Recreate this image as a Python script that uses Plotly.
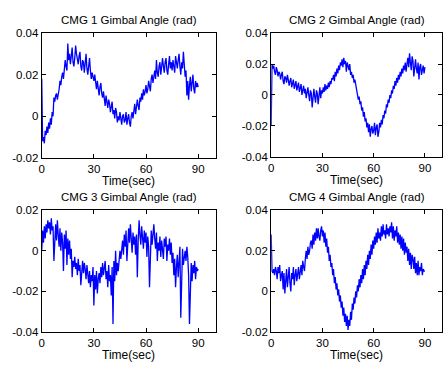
import plotly.graph_objects as go

# time axis: 0 .. 90 s, step 0.5 s
time_step = 0.5
n_points = 181
time_sec = [i * time_step for i in range(n_points)]

# gimbal angles in milliradians
cmg1_mrad = [
    18, -12, -10, -13, -7, -9, -5, -8, -3, -6,
    -1, -4, 2, 0, 9, 7, 10, 11, 8, 10,
    13, 17, 15, 19, 21, 18, 23, 27, 24, 22,
    35, 27, 30, 25, 29, 33, 26, 24, 28, 34,
    30, 27, 25, 29, 31, 24, 22, 27, 26, 21,
    25, 30, 23, 20, 24, 28, 22, 18, 21, 19,
    17, 20, 15, 13, 17, 12, 10, 14, 16, 11,
    9, 12, 8, 5, 10, 7, 4, 8, 6, 2,
    5, 7, 1, 3, -1, 4, 2, -3, 0, -2,
    2, -1, -4, 0, 1, -3, -2, 2, -4, -1,
    1, -3, -5, 0, 2, -1, 3, 6, 1, 4,
    8, 5, 3, 9, 7, 11, 8, 13, 10, 12,
    15, 11, 13, 17, 14, 12, 18, 20, 16, 19,
    22, 18, 27, 21, 19, 24, 26, 20, 23, 28,
    24, 21, 26, 28, 22, 20, 25, 29, 23, 26,
    22, 27, 24, 21, 29, 25, 23, 27, 30, 24,
    20, 26, 23, 31, 25, 19, 22, 10, 17, 8,
    15, 19, 12, 16, 20, 13, 11, 17, 14, 16,
    14,
]
cmg2_mrad = [
    -20, 20, 17, 19, 15, 13, 18, 16, 12, 15,
    14, 10, 13, 15, 9, 7, 12, 11, 8, 13,
    10, 6, 9, 11, 5, 8, 10, 4, 7, 9,
    3, 6, 8, 2, 5, 7, 0, 4, 6, 1,
    4, -2, 2, 5, 0, -4, 3, 1, -8, 2,
    4, -1, -5, 3, 1, -6, 2, 5, -2, 3,
    1, 5, 2, 7, 3, 6, 4, 8, 5, 9,
    7, 11, 10, 13, 9, 15, 12, 17, 14, 19,
    16, 21, 19, 23, 18, 24, 20, 22, 15, 21,
    19, 16, 20, 13, 15, 11, 13, 8, 10, 6,
    4, 1, -3, -1, -6, -4, -10, -8, -14, -11,
    -17, -15, -21, -18, -24, -19, -27, -22, -20, -25,
    -23, -18, -26, -21, -19, -27, -24, -18, -21, -16,
    -19, -13, -15, -10, -12, -6, -8, -3, -5, 0,
    -2, 3, 1, 6, 4, 9, 6, 11, 8, 13,
    10, 15, 12, 17, 14, 19, 16, 21, 15, 20,
    24, 18, 27, 21, 16, 25, 22, 12, 19, 23,
    17, 14, 21, 10, 18, 20, 13, 16, 19, 14,
    18,
]
cmg3_mrad = [
    0, 10, 4, 12, 6, 13, 9, 15, 11, 14,
    8, 16, 10, 12, -5, 9, 13, 5, 15, 8,
    2, 11, 0, 9, 4, -10, 8, 1, 10, -7,
    6, -2, 5, -4, 1, -13, -5, -8, -3, -9,
    -6, -12, -4, -10, -7, -17, -8, -5, -11, -6,
    -9, -14, -7, -12, -16, -10, -18, -12, -15, -8,
    -27, -12, -19, -10, -21, -14, -11, -16, -8, -13,
    -6, -12, -9, -5, -14, -10, -18, -7, -15, -12,
    -22, -8, -36, -5, -15, 0, -12, -6, -10, -3,
    0, -4, 3, 5, -2, 8, 2, 10, -5, 7,
    11, 4, 13, 6, -1, 9, 3, 7, -2, 8,
    -13, 5, 15, 8, 3, 12, 6, 1, 10, 4,
    9, -3, 7, 2, -18, 5, 10, 3, 8, 13,
    6, 1, 9, -5, 4, 0, 7, -3, 5, 1,
    -4, 6, 2, 7, -5, 3, 0, 6, -2, 4,
    -6, -1, -12, -4, -18, -8, -2, -13, -6, 2,
    -33, -4, 1, -7, -2, 0, -5, 2, -3, -12,
    -36, -10, -6, -15, -7, -11, -5, -14, -8, -10,
    -9,
]
cmg4_mrad = [
    28, 10, 9, 11, 8, 12, 10, 6, 12, 9,
    13, 5, 8, 10, 1, 9, -1, 6, 11, 2,
    7, 12, 4, 0, 9, 6, 12, 3, 8, 11,
    5, 9, 12, 6, 10, 13, 8, 15, 12, 10,
    16, 20, 16, 22, 18, 20, 24, 25, 21, 28,
    23, 29, 25, 31, 26, 31, 27, 25, 30, 32,
    27, 30, 24, 29, 22, 26, 19, 22, 15, 18,
    12, 14, 8, 11, 4, 7, 1, 4, -2, 1,
    -5, -2, -8, -5, -12, -8, -15, -11, -17, -12,
    -19, -14, -17, -10, -14, -6, -9, -3, -6, 0,
    -3, 3, 0, 6, 2, 8, 4, 11, 6, 13,
    8, 15, 11, 18, 13, 20, 16, 23, 18, 25,
    21, 27, 23, 29, 24, 31, 26, 29, 25, 32,
    27, 33, 28, 30, 26, 33, 28, 31, 27, 32,
    29, 34, 26, 32, 25, 30, 27, 32, 24, 29,
    23, 28, 21, 27, 20, 26, 18, 24, 19, 22,
    15, 21, 13, 19, 11, 18, 16, 11, 17, 9,
    14, 8, 15, 8, 12, 10, 14, 8, 11, 10,
    10,
]

titles = ["CMG 1 Gimbal Angle (rad)", "CMG 2 Gimbal Angle (rad)",
          "CMG 3 Gimbal Angle (rad)", "CMG 4 Gimbal Angle (rad)"]
x_label = "Time(sec)"
x_ticks = [0, 30, 60, 90]
x_tick_text = ["0", "30", "60", "90"]
y_ticks = [
    [-0.02, 0, 0.02, 0.04],
    [-0.04, -0.02, 0, 0.02, 0.04],
    [-0.04, -0.02, 0, 0.02],
    [-0.02, 0, 0.02, 0.04],
]
y_tick_text = [
    ["-0.02", "0", "0.02", "0.04"],
    ["-0.04", "-0.02", "0", "0.02", "0.04"],
    ["-0.04", "-0.02", "0", "0.02"],
    ["-0.02", "0", "0.02", "0.04"],
]
y_ranges = [[-0.02, 0.04], [-0.04, 0.04], [-0.04, 0.02], [-0.02, 0.04]]

series = [cmg1_mrad, cmg2_mrad, cmg3_mrad, cmg4_mrad]

W, H = 443, 368
# pixel boxes (left, right, top, bottom)
boxes = [(39, 214, 28, 157), (270, 442, 28, 156), (39, 214, 211, 337), (270, 442, 211, 337)]

FONT = "Liberation Sans, Arial, Helvetica, sans-serif"

fig = go.Figure()
layout = dict(
    width=W, height=H, margin=dict(l=0, r=0, t=0, b=0),
    paper_bgcolor="white", plot_bgcolor="white", showlegend=False,
    font=dict(family=FONT, size=11, color="black"),
)
annotations = []
for i, (vals, box) in enumerate(zip(series, boxes)):
    k = "" if i == 0 else str(i + 1)
    l, r, t, b = box
    fig.add_trace(go.Scatter(
        x=time_sec, y=[v / 1000.0 for v in vals], mode="lines",
        line=dict(color="#0000ff", width=1.3),
        xaxis="x" + k, yaxis="y" + k, hoverinfo="skip",
    ))
    axcommon = dict(showgrid=False, zeroline=False, showline=True, linecolor="black",
                    linewidth=1, mirror="ticks", ticks="inside", ticklen=4,
                    tickcolor="black", tickfont=dict(family=FONT, size=11.5, color="black"))
    layout["xaxis" + k] = dict(axcommon, domain=[l / W, r / W], range=[0, 100],
                               tickvals=x_ticks, ticktext=x_tick_text,
                               anchor="y" + k, ticklabelstandoff=0)
    layout["yaxis" + k] = dict(axcommon, domain=[1 - b / H, 1 - t / H], range=y_ranges[i],
                               tickvals=y_ticks[i], ticktext=y_tick_text[i],
                               anchor="x" + k, ticklabelstandoff=0)
    cx = (l + r) / 2 / W
    annotations.append(dict(text=titles[i], x=cx, y=1 - (t - 14) / H, xref="paper", yref="paper",
                            showarrow=False, font=dict(family=FONT, size=11.5, color="black"),
                            xanchor="center", yanchor="middle", borderpad=0))
    annotations.append(dict(text=x_label, x=cx, y=1 - (b + 24) / H, xref="paper", yref="paper",
                            showarrow=False, font=dict(family=FONT, size=12, color="black"),
                            xanchor="center", yanchor="middle", borderpad=0))
layout["annotations"] = annotations
fig.update_layout(**layout)
fig.write_html("out.html")
